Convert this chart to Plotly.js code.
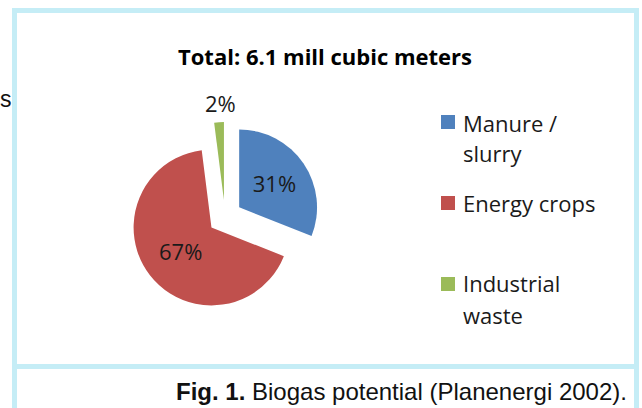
<!DOCTYPE html>
<html>
<head>
<meta charset="utf-8">
<script src="https://cdn.plot.ly/plotly-3.0.1.min.js"></script>
<style>html,body{margin:0;padding:0;background:#fff;}#chart{width:642px;height:408px;}</style>
</head>
<body>
<div id="chart"></div>
<script>
var categories = ['Manure /<br>slurry', 'Energy crops', 'Industrial<br>waste'];
var shares = [31, 67, 2];
var sliceColors = ['#4f81bd', '#c0504d', '#9bbb59'];
var pieTitle = 'Total: 6.1 mill cubic meters';
var captionBold = 'Fig. 1.';
var captionText = 'Biogas potential (Planenergi 2002).';

var W = 642, H = 408;
function px(x) { return x / W; }
function py(y) { return 1 - y / H; }
var frameColor = '#c5edf6';

var shapes = [];
function band(x0, y0, x1, y1) {
  shapes.push({type: 'rect', xref: 'paper', yref: 'paper', x0: px(x0), x1: px(x1), y0: py(y1), y1: py(y0),
    fillcolor: frameColor, line: {width: 0}, layer: 'below'});
}
band(12, 8, 639, 13);
band(12, 8, 17, 408);
band(634, 8, 639, 408);
band(12, 364, 639, 369);

var annotations = [];
var labelFontFamily = 'Open Sans, sans-serif';
// legend built from the categories / colours
var legendY = [[123, 153], [203], [283, 315]];
var squareY = [122, 203, 284];
var legendFont = {family: labelFontFamily, size: 22, color: '#1a1a1a'};
categories.forEach(function (c, i) {
  var lines = c.split('<br>');
  lines.forEach(function (ln, j) {
    annotations.push({xref: 'paper', yref: 'paper', x: px(461), y: py(legendY[i][j]), xanchor: 'left', yanchor: 'middle',
      text: ln, showarrow: false, font: legendFont});
  });
  shapes.push({type: 'rect', xref: 'paper', yref: 'paper', x0: px(441), x1: px(455), y0: py(squareY[i] + 7), y1: py(squareY[i] - 7),
    fillcolor: sliceColors[i], line: {width: 0}});
});

// label of the thin slice, placed above it
annotations.push({xref: 'paper', yref: 'paper', x: px(220), y: py(103), xanchor: 'center', yanchor: 'middle',
  text: shares[2] + '%', showarrow: false, font: {family: labelFontFamily, size: 22, color: '#1a1a1a'}});

annotations.push({xref: 'paper', yref: 'paper', x: px(325), y: py(56), xanchor: 'center', yanchor: 'middle',
  text: '<b>' + pieTitle + '</b>', showarrow: false, font: {family: labelFontFamily, size: 22, color: '#000'}});
annotations.push({xref: 'paper', yref: 'paper', x: px(629), y: py(391), xanchor: 'right', yanchor: 'middle',
  text: '<b>' + captionBold + '</b> ' + captionText, showarrow: false, font: {family: 'Liberation Sans, Arial, sans-serif', size: 24, color: '#111'}});
annotations.push({xref: 'paper', yref: 'paper', x: px(-2), y: py(99), xanchor: 'left', yanchor: 'middle',
  text: 's', showarrow: false, font: {family: 'Liberation Sans, Arial, sans-serif', size: 23, color: '#111'}});

var trace = {
  type: 'pie',
  values: shares,
  labels: categories,
  marker: {colors: sliceColors, line: {width: 0}},
  sort: false,
  direction: 'clockwise',
  rotation: 0,
  pull: [0.22, 0.22, 0.22],
  texttemplate: '%{value}%',
  textinfo: 'text',
  textposition: ['inside', 'inside', 'none'],
  insidetextorientation: 'horizontal',
  textfont: {family: labelFontFamily, size: 22, color: '#1a1a1a'},
  hoverinfo: 'none',
  showlegend: false,
  domain: {x: [px(130), px(320)], y: [py(312), py(122)]}
};

var layout = {
  width: W, height: H,
  margin: {l: 0, r: 0, t: 0, b: 0},
  paper_bgcolor: '#ffffff',
  showlegend: false,
  shapes: shapes,
  annotations: annotations
};

Plotly.newPlot('chart', [trace], layout, {displayModeBar: false, staticPlot: true});
</script>
</body>
</html>
